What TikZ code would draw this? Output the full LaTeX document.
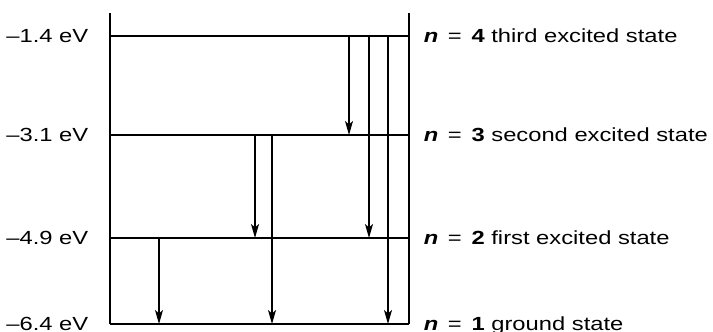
\documentclass[tikz,border=0pt]{standalone}
\usepackage{fontspec}
\setmainfont{Liberation Sans}
\usetikzlibrary{
  arrows.meta % For arrow tips
}
\newcommand{\wide}[1]{\scalebox{1.25}[1]{#1}}

\begin{document}
\begin{tikzpicture}[
      x=1pt, y=1pt,
      line width=1.5pt, % Default line thickness
      >={Stealth[length=14pt, width=8pt, inset=3.5pt]}, % Default arrow tip
      level/.style={line width=1.5pt}, % Style for energy levels
      trans/.style={line width=1.4pt, ->}, % Style for transitions
      elabel/.style={anchor=base east, inner sep=0pt, font=\fontsize{19}{22}\selectfont},
      nlabel/.style={anchor=base west, inner sep=0pt, font=\fontsize{19}{22}\selectfont},
    ]
    \useasboundingbox (0,0) rectangle (713,-332);

    % Energieniveaus
    \def\yone{-324}
    \def\ytwo{-238}
    \def\ythree{-135}
    \def\yfour{-36}
    \def\eq{\hspace{2.5pt}=\hspace{2.5pt}}

    % Koordinaten der Niveaus
    \coordinate (L1) at (110, \yone);
    \coordinate (R1) at (409, \yone);
    \coordinate (L2) at (110, \ytwo);
    \coordinate (R2) at (409, \ytwo);
    \coordinate (L3) at (110, \ythree);
    \coordinate (R3) at (409, \ythree);
    \coordinate (L4) at (110, \yfour);
    \coordinate (R4) at (409, \yfour);
    \coordinate (LT) at (110, -13);
    \coordinate (RT) at (409, -13);

    % Rahmen
    \draw (LT) -- (L1);
    \draw (RT) -- (R1);

    % Niveaus
    \foreach \i in {1,...,4}
    \draw[level] (L\i) -- (R\i);

    % Energiewerte
    \node[elabel] (e4) at (89, \yfour - 6.5) {\wide{–1.4 eV}};
    \node[elabel] (e3) at (89, \ythree - 6.5) {\wide{–3.1 eV}};
    \node[elabel] (e2) at (89, \ytwo - 6.5) {\wide{–4.9 eV}};
    \node[elabel] (e1) at (89, \yone - 6.5) {\wide{–6.4 eV}};

    % Zustände
    \node[nlabel] (n4) at (423, \yfour - 6.5) {\wide{\textbf{\textit{n}} \eq{} \textbf{4} third excited state}};
    \node[nlabel] (n3) at (423, \ythree - 6.5) {\wide{\textbf{\textit{n}} \eq{} \textbf{3} second excited state}};
    \node[nlabel] (n2) at (423, \ytwo - 6.5) {\wide{\textbf{\textit{n}} \eq{} \textbf{2} first excited state}};
    \node[nlabel] (n1) at (423, \yone - 6.5) {\wide{\textbf{\textit{n}} \eq{} \textbf{1} ground state}};

    % Übergänge
    \foreach \x/\a/\b in {349/4/3, 369/4/2, 388/4/1, 255/3/2, 272/3/1, 159/2/1}
    \draw[trans] (\x,0 |- L\a) -- (\x,0 |- L\b);

  \end{tikzpicture}
\end{document}
